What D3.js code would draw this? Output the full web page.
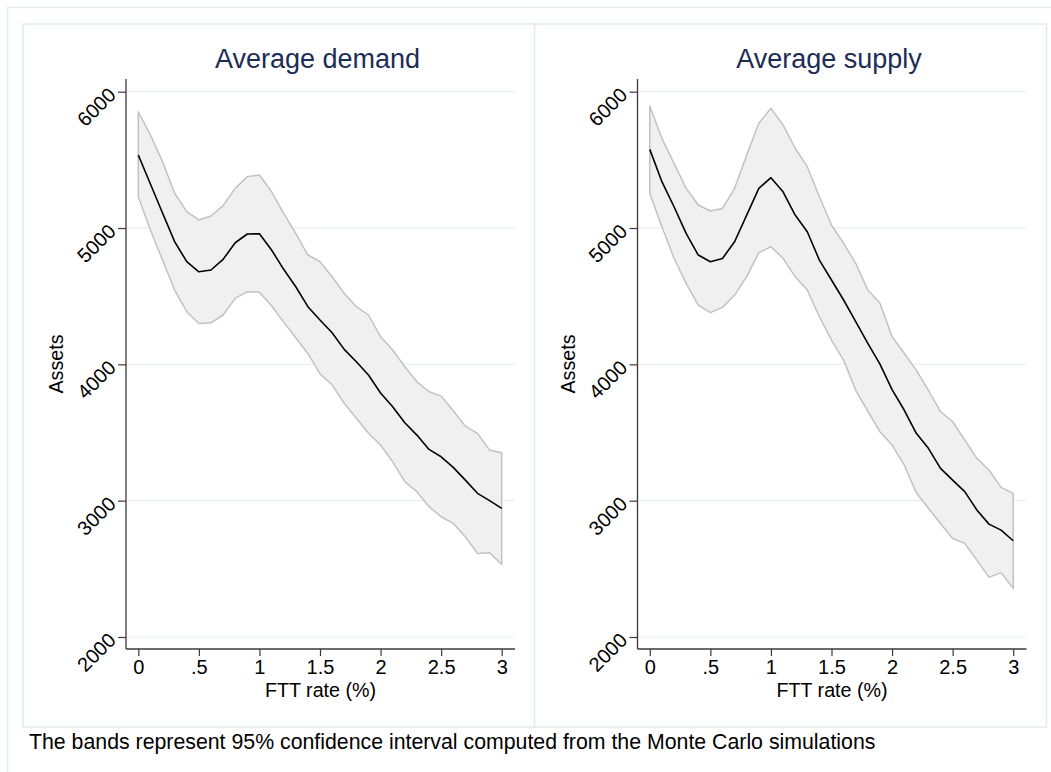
<!DOCTYPE html>
<html>
<head>
<meta charset="utf-8">
<script src="https://cdn.jsdelivr.net/npm/d3@7"></script>
<style>
  html, body { margin: 0; padding: 0; background: #ffffff; }
  svg { display: block; font-family: "Liberation Sans", Arial, Helvetica, sans-serif; }
</style>
</head>
<body>
<svg id="chart" width="1051" height="772"></svg>
<script>
// FTT rate grid (%)
const fttRate = [0, 0.1, 0.2, 0.3, 0.4, 0.5, 0.6, 0.7, 0.8, 0.9, 1.0,
                 1.1, 1.2, 1.3, 1.4, 1.5, 1.6, 1.7, 1.8, 1.9, 2.0,
                 2.1, 2.2, 2.3, 2.4, 2.5, 2.6, 2.7, 2.8, 2.9, 3.0];

// Average demand: mean and 95% band
const demandMean  = [5536, 5323, 5110, 4900, 4753, 4679, 4692, 4770, 4892, 4956, 4958,
                     4839, 4697, 4569, 4423, 4325, 4232, 4110, 4019, 3922, 3790,
                     3689, 3572, 3481, 3376, 3322, 3244, 3151, 3054, 3000, 2944];
const demandUpper = [5853, 5682, 5487, 5255, 5120, 5059, 5088, 5164, 5291, 5377, 5389,
                     5266, 5108, 4961, 4802, 4753, 4643, 4521, 4423, 4362, 4203,
                     4105, 3982, 3872, 3799, 3767, 3659, 3547, 3494, 3371, 3352];
const demandLower = [5230, 4985, 4765, 4545, 4386, 4300, 4305, 4362, 4484, 4533, 4528,
                     4430, 4310, 4195, 4080, 3930, 3850, 3714, 3604, 3494, 3408,
                     3285, 3139, 3066, 2956, 2882, 2833, 2735, 2613, 2618, 2533];

// Average supply: mean and 95% band
const supplyMean  = [5577, 5340, 5156, 4961, 4802, 4753, 4777, 4899, 5095, 5291, 5369,
                     5266, 5095, 4973, 4765, 4619, 4472, 4313, 4154, 4002, 3815,
                     3665, 3494, 3384, 3237, 3151, 3066, 2932, 2828, 2784, 2706];
const supplyUpper = [5895, 5658, 5475, 5291, 5169, 5125, 5144, 5291, 5536, 5768, 5878,
                     5756, 5585, 5450, 5230, 5022, 4888, 4741, 4545, 4448, 4203,
                     4081, 3958, 3810, 3653, 3579, 3445, 3310, 3225, 3098, 3054];
const supplyLower = [5254, 5010, 4778, 4594, 4435, 4379, 4418, 4508, 4643, 4819, 4863,
                     4778, 4643, 4545, 4349, 4178, 4031, 3810, 3656, 3506, 3408,
                     3262, 3058, 2944, 2833, 2723, 2687, 2564, 2437, 2472, 2357];

const xTicks = [0, 0.5, 1, 1.5, 2, 2.5, 3];
const xTickLabels = ["0", ".5", "1", "1.5", "2", "2.5", "3"];
const yTicks = [2000, 3000, 4000, 5000, 6000];

const panelTitles = ["Average demand", "Average supply"];
const yTitle = "Assets";
const xTitle = "FTT rate (%)";
const noteText = "The bands represent 95% confidence interval computed from the Monte Carlo simulations";

const panels = [
  { title: panelTitles[0], mean: demandMean, upper: demandUpper, lower: demandLower },
  { title: panelTitles[1], mean: supplyMean, upper: supplyUpper, lower: supplyLower }
];

const svg = d3.select("#chart");
const borderColor = "#e2ebed";
const gridColor = "#e9f0f2";
const axisColor = "#3a3a3a";
const tickFont = 20;
const axisTitleFont = 19.7;

// outer frame of the combined graph
svg.append("rect")
  .attr("x", 7.5).attr("y", 7.5)
  .attr("width", 1080).attr("height", 800)
  .attr("fill", "none").attr("stroke", borderColor).attr("stroke-width", 1.5);

const panelW = 511.5;

panels.forEach((p, i) => {
  const dx = i * panelW;
  const g = svg.append("g");

  // panel frame
  g.append("rect")
    .attr("x", 23 + dx).attr("y", 24)
    .attr("width", 512).attr("height", 703)
    .attr("fill", "#ffffff").attr("stroke", borderColor).attr("stroke-width", 1.5);

  const plotL = 126 + dx, plotR = 515 + dx, plotT = 79, plotB = 649;
  const x = d3.scaleLinear().domain([0, 3]).range([138.3 + dx, 501.7 + dx]);
  const y = d3.scaleLinear().domain([2000, 6000]).range([637, 91.7]);

  // horizontal grid
  g.append("g").selectAll("line").data(yTicks).join("line")
    .attr("x1", plotL).attr("x2", plotR)
    .attr("y1", d => y(d)).attr("y2", d => y(d))
    .attr("stroke", gridColor).attr("stroke-width", 1.2);

  // confidence band
  const rows = fttRate.map((r, k) => ({ r, m: p.mean[k], u: p.upper[k], l: p.lower[k] }));
  const area = d3.area().x(d => x(d.r)).y0(d => y(d.l)).y1(d => y(d.u));
  g.append("path").datum(rows)
    .attr("d", area)
    .attr("fill", "#f0f0f0").attr("stroke", "#c2c2c2").attr("stroke-width", 1.5)
    .attr("stroke-linejoin", "round");

  // mean line
  const line = d3.line().x(d => x(d.r)).y(d => y(d.m));
  g.append("path").datum(rows)
    .attr("d", line)
    .attr("fill", "none").attr("stroke", "#000000").attr("stroke-width", 1.6)
    .attr("stroke-linejoin", "round");

  // y axis
  const yAxis = d3.axisLeft(y).tickValues(yTicks).tickSize(8).tickPadding(3).tickFormat(d3.format("d"));
  const ya = g.append("g").attr("transform", `translate(${plotL},0)`).call(yAxis);
  ya.select(".domain").attr("d", `M0,${plotT}V${plotB}`).attr("stroke", axisColor).attr("stroke-width", 1.3);
  ya.selectAll(".tick line").attr("stroke", axisColor).attr("stroke-width", 1.2);
  ya.selectAll(".tick text")
    .attr("font-size", tickFont).attr("fill", "#000")
    .attr("x", null).attr("dy", null)
    .attr("text-anchor", "end")
    .attr("transform", "translate(-9,4) rotate(-45)");

  // x axis
  const xAxis = d3.axisBottom(x).tickValues(xTicks).tickSize(7).tickPadding(4)
    .tickFormat((d, k) => xTickLabels[k]);
  const xa = g.append("g").attr("transform", `translate(0,${plotB})`).call(xAxis);
  xa.select(".domain").attr("d", `M${plotL},0H${plotR}`).attr("stroke", axisColor).attr("stroke-width", 1.3);
  xa.selectAll(".tick line").attr("stroke", axisColor).attr("stroke-width", 1.2);
  xa.selectAll(".tick text").attr("font-size", tickFont).attr("fill", "#000");

  // titles
  g.append("text")
    .attr("x", (plotL + plotR) / 2 - 3).attr("y", 68)
    .attr("text-anchor", "middle").attr("font-size", 27).attr("fill", "#1c2d56")
    .text(p.title);

  g.append("text")
    .attr("transform", `translate(${63 + dx},${(plotT + plotB) / 2}) rotate(-90)`)
    .attr("text-anchor", "middle").attr("font-size", axisTitleFont).attr("fill", "#000")
    .text(yTitle);

  g.append("text")
    .attr("x", (plotL + plotR) / 2).attr("y", 697)
    .attr("text-anchor", "middle").attr("font-size", axisTitleFont).attr("fill", "#000")
    .text(xTitle);
});

// note below the panels
svg.append("text")
  .attr("x", 29).attr("y", 749)
  .attr("font-size", 21.3).attr("fill", "#000")
  .text(noteText);
</script>
</body>
</html>
